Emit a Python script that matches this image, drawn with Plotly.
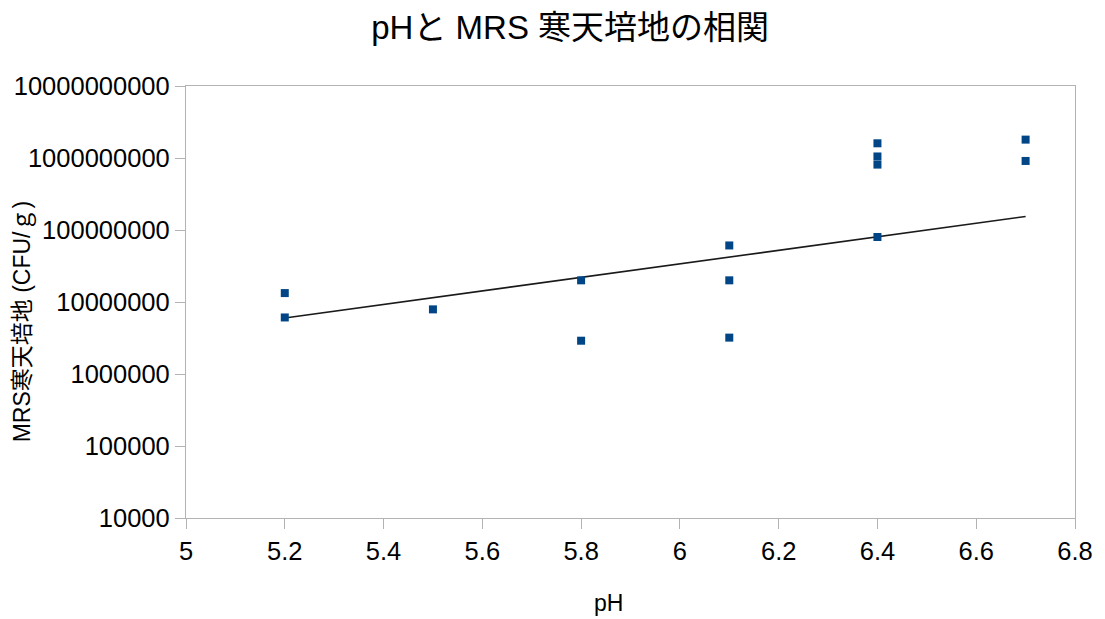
import plotly.graph_objects as go

# pH of each sample and its plate count on MRS agar (CFU/g)
ph = [5.2, 5.2, 5.5, 5.8, 5.8, 6.1, 6.1, 6.1, 6.4, 6.4, 6.4, 6.4, 6.7, 6.7]
cfu = [1.33e7, 6.1e6, 7.9e6, 2.0e7, 2.9e6, 6.1e7, 2.0e7, 3.2e6,
       1.6e9, 1.05e9, 8.1e8, 8.0e7, 1.8e9, 9.1e8]

# exponential trend line end points
trend_ph = [5.2, 6.7]
trend_cfu = [6.0e6, 1.54e8]

x_ticks = [5, 5.2, 5.4, 5.6, 5.8, 6, 6.2, 6.4, 6.6, 6.8]
y_ticks = [1e4, 1e5, 1e6, 1e7, 1e8, 1e9, 1e10]
y_tick_text = ["10000", "100000", "1000000", "10000000", "100000000",
               "1000000000", "10000000000"]

FONT = "Liberation Sans, Arial, Noto Sans CJK JP, sans-serif"
AXIS_GREY = "#b3b3b3"

fig = go.Figure()
fig.add_trace(go.Scatter(
    x=trend_ph, y=trend_cfu, mode="lines",
    line=dict(color="#1a1a1a", width=1.6),
    hoverinfo="skip", showlegend=False,
))
fig.add_trace(go.Scatter(
    x=ph, y=cfu, mode="markers",
    marker=dict(symbol="square", size=8, color="#004586",
                line=dict(width=0)),
    showlegend=False,
))

# axis titles placed as annotations so they sit where LibreOffice put them
fig.add_annotation(
    text="pH", xref="paper", yref="paper",
    x=(609 - 186) / 891, y=-(603 - 518) / 432,
    xanchor="center", yanchor="middle", showarrow=False,
    font=dict(family=FONT, size=23, color="#000000"),
)
fig.add_annotation(
    text="MRS寒天培地 (CFU/ｇ)", xref="paper", yref="paper",
    x=(22 - 186) / 891, y=(518 - 322) / 432, textangle=-90,
    xanchor="center", yanchor="middle", showarrow=False,
    font=dict(family=FONT, size=23, color="#000000"),
)

fig.update_layout(
    width=1105, height=619,
    margin=dict(l=186, r=28, t=86, b=101),
    paper_bgcolor="white", plot_bgcolor="white",
    font=dict(family=FONT, size=25.5, color="#000000"),
    title=dict(
        text="pHと MRS 寒天培地の相関",
        font=dict(family=FONT, size=33, color="#000000"),
        x=0.516, xref="container", xanchor="center",
        y=1 - 27 / 619, yref="container", yanchor="middle",
    ),
    xaxis=dict(
        range=[5, 6.8], tickvals=x_ticks,
        showgrid=False, zeroline=False,
        showline=True, linecolor=AXIS_GREY, linewidth=1.3, mirror=True,
        ticks="outside", ticklen=10, tickcolor=AXIS_GREY, tickwidth=1.3,
        tickfont=dict(size=25.5),
    ),
    yaxis=dict(
        type="log", range=[4, 10],
        tickvals=y_ticks, ticktext=y_tick_text,
        showgrid=False, zeroline=False,
        showline=True, linecolor=AXIS_GREY, linewidth=1.3, mirror=True,
        ticks="outside", ticklen=10, tickcolor=AXIS_GREY, tickwidth=1.3,
        tickfont=dict(size=25.5),
    ),
)

fig.write_html("out.html")
